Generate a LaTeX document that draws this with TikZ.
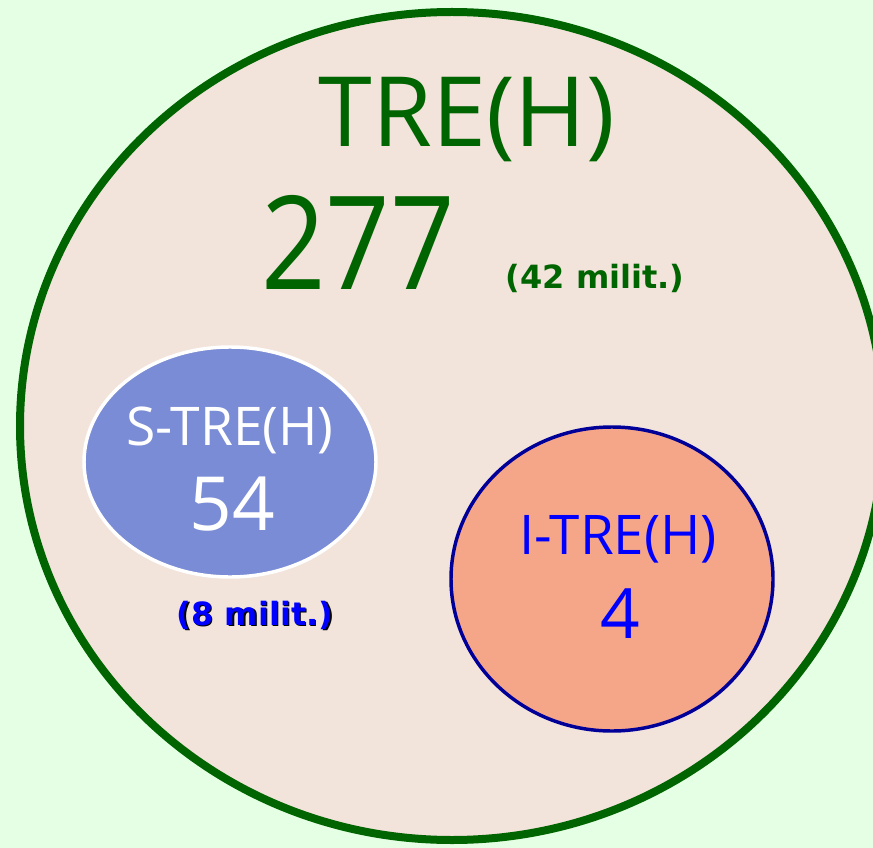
\documentclass[tikz,border=0pt]{standalone}
\usepackage{fontspec}
\setmainfont{Open Sans}
\newfontfamily\noteface{DejaVu Sans}
\usetikzlibrary{shapes.geometric}
\definecolor{bgmint}{RGB}{229,255,229}
\definecolor{setfill}{RGB}{242,228,219}
\definecolor{setgreen}{RGB}{0,100,0}
\definecolor{sfill}{RGB}{122,140,213}
\definecolor{ifill}{RGB}{245,166,136}
\definecolor{idraw}{RGB}{0,0,153}
\definecolor{textblue}{RGB}{0,0,255}
\newcommand{\fs}[1]{\fontsize{#1}{1.2\dimexpr#1\relax}\selectfont}
\begin{document}
\begin{tikzpicture}[x=0.75pt,y=0.75pt,yscale=-1,xscale=1,
  setshape/.style={ellipse,inner sep=0pt,outer sep=0pt},
  note/.style={anchor=base,inner sep=0.75pt,font=\noteface\bfseries\fs{24pt}}]
%set diagram left start at 0, and has height of 848
\path[use as bounding box,fill=bgmint] (0,0) rectangle (873,848);

%Shape: Ellipse [id:tre]
\node[setshape,draw=setgreen,fill=setfill,line width=6pt,minimum width=648pt,minimum height=621pt] (tre) at (452,426) {};
%Shape: Ellipse [id:stre]
\node[setshape,draw=white,fill=sfill,line width=2.6pt,minimum width=219pt,minimum height=172.5pt] (stre) at (230,462) {};
%Shape: Ellipse [id:itre]
\node[setshape,draw=idraw,fill=ifill,line width=2.6pt,minimum width=241.5pt,minimum height=228pt] (itre) at (612,579) {};

% Text Node
\draw (467,147) node [anchor=base][inner sep=0.75pt] (trename) {\color{setgreen}\fs{72.75pt}TRE(H)};
% Text Node
\draw (358,289) node [anchor=base][inner sep=0.75pt,xscale=0.87] (trecount) {\color{setgreen}\fs{97.5pt}277};
% Text Node
\draw (595,288) node [note] (tremil) {\color{setgreen}(42 milit.)};
% Text Node
\draw (230,445) node [anchor=base][inner sep=0.75pt] (strename) {\color{white}\fs{40pt}S-TRE(H)};
% Text Node
\draw (232,530) node [anchor=base][inner sep=0.75pt] (strecount) {\color{white}\fs{56pt}54};
% Text Node
\draw (256.5,626.5) node [note] {\color{black}(8 milit.)};
\draw (255,625) node [note] (stremil) {\color{textblue}(8 milit.)};
% Text Node
\draw (618,554) node [anchor=base][inner sep=0.75pt] (itrename) {\color{textblue}\fs{41pt}I-TRE(H)};
% Text Node
\draw (620,638) node [anchor=base][inner sep=0.75pt] (itrecount) {\color{textblue}\fs{52pt}4};
\end{tikzpicture}
\end{document}
